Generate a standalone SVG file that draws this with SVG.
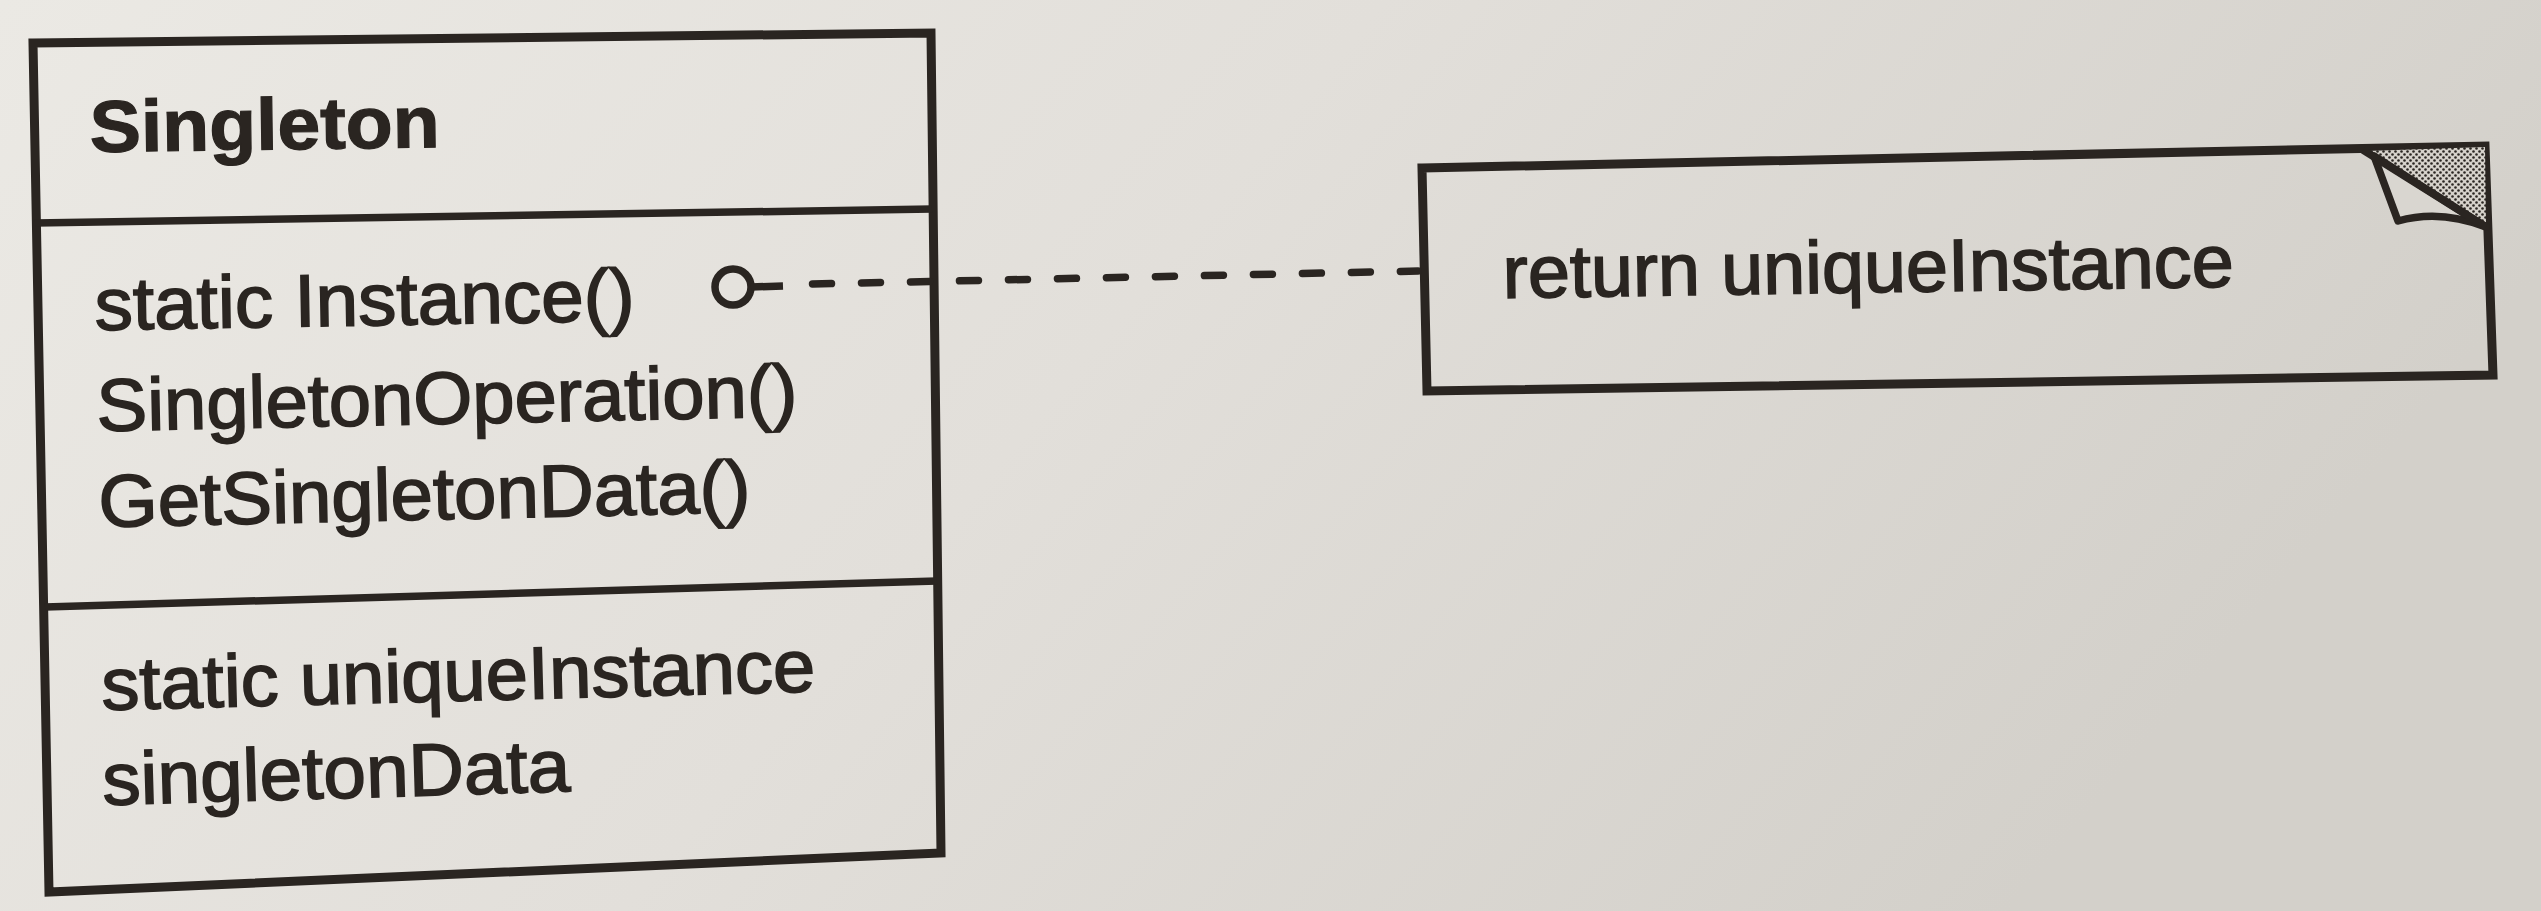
<svg xmlns="http://www.w3.org/2000/svg" width="2541" height="911" viewBox="0 0 2541 911">
<style>
.ln{fill:none;stroke:#2a2521;stroke-width:9;stroke-linejoin:miter}
.dv{fill:none;stroke:#2a2521;stroke-width:7.5}
.tx{font-family:"Liberation Sans",Arial,sans-serif;font-size:74px;fill:#2a2521;stroke:#2a2521;stroke-width:1.6}
.tb{font-family:"Liberation Sans",Arial,sans-serif;font-size:73px;font-weight:bold;fill:#2a2521;stroke:#2a2521;stroke-width:1.2}
.dash{fill:none;stroke:#2a2521;stroke-width:7.5;stroke-linecap:round;stroke-dasharray:19 30}
</style>
<defs>
<linearGradient id="paper" x1="0" y1="0" x2="1" y2="0.3">
<stop offset="0" stop-color="#ebe9e4"/>
<stop offset="0.5" stop-color="#e2dfda"/>
<stop offset="1" stop-color="#d3d0ca"/>
</linearGradient>
<pattern id="dots" width="6" height="6" patternUnits="userSpaceOnUse">
<rect width="6" height="6" fill="#d6d2cb"/>
<circle cx="1.5" cy="1.5" r="1.3" fill="#2a2521"/>
<circle cx="4.5" cy="4.5" r="1.3" fill="#2a2521"/>
</pattern>
</defs>
<rect width="2541" height="911" fill="url(#paper)"/>
<g id="singleton">
<path class="ln" d="M33,43 L931,33 L941,853 L49,892 Z"/>
<path class="dv" d="M35,223 L932,209"/>
<path class="dv" d="M45,607 L937,581"/>
<text class="tb" x="90" y="152" textLength="350" lengthAdjust="spacingAndGlyphs" transform="rotate(-0.8 90 152)">Singleton</text>
<text class="tx" x="95" y="330" textLength="540" lengthAdjust="spacingAndGlyphs" transform="rotate(-1.0 95 330)">static Instance()</text>
<text class="tx" x="97" y="431" textLength="701" lengthAdjust="spacingAndGlyphs" transform="rotate(-1.2 97 431)">SingletonOperation()</text>
<text class="tx" x="99" y="527" textLength="652" lengthAdjust="spacingAndGlyphs" transform="rotate(-1.3 99 527)">GetSingletonData()</text>
<text class="tx" x="102" y="710" textLength="714" lengthAdjust="spacingAndGlyphs" transform="rotate(-1.5 102 710)">static uniqueInstance</text>
<text class="tx" x="103" y="805" textLength="468" lengthAdjust="spacingAndGlyphs" transform="rotate(-1.7 103 805)">singletonData</text>
</g>
<g id="note">
<path class="ln" d="M1422,168 L2485,146 L2493,375 L1427,391 Z"/>
<path d="M2366,151 L2485,147 L2486,227 Z" fill="url(#dots)"/>
<path d="M2374,156 L2398,221 Q2440,209 2486,227 Z" fill="#d9d6d0" stroke="#2a2521" stroke-width="7.5" stroke-linejoin="round"/>
<path class="dv" d="M2363,150 L2486,227"/>
<text class="tx" x="1503" y="298" textLength="731" lengthAdjust="spacingAndGlyphs" transform="rotate(-0.9 1503 298)">return uniqueInstance</text>
</g>
<g id="connectors">
<circle cx="733" cy="287" r="18" fill="none" stroke="#2a2521" stroke-width="7.5"/>
<path class="dv" d="M751,287 L783,286"/>
<path class="dash" d="M812.5,284 L1418,271"/>
</g>
</svg>
